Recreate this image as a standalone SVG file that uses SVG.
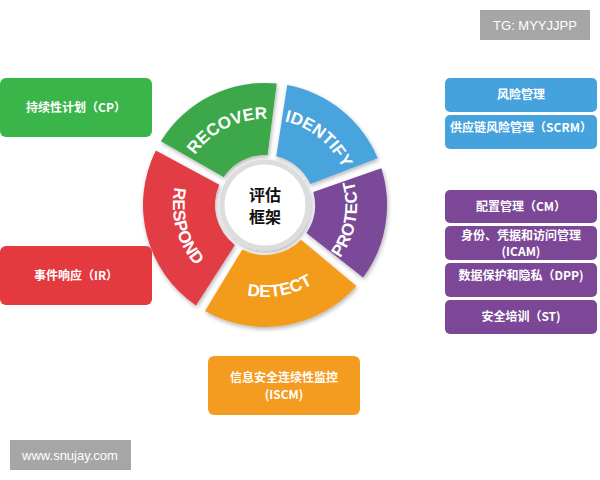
<svg xmlns="http://www.w3.org/2000/svg" width="600" height="480" viewBox="0 0 600 480">
<style>
.t{font-family:"Noto Sans CJK SC","Liberation Sans",sans-serif;font-size:12px;fill:#fff;text-anchor:middle;font-weight:bold}
.w{font-family:"Liberation Sans",sans-serif;font-size:17px;font-weight:bold;fill:#fff}
.g{font-family:"Liberation Sans",sans-serif;font-size:13px;fill:#fff;text-anchor:middle}
</style>
<defs>
<filter id="sh" x="-20%" y="-20%" width="140%" height="140%"><feDropShadow dx="1" dy="2" stdDeviation="2" flood-opacity="0.3"/></filter>
<path id="pRec" d="M181.4,185 A86,86 0 0 1 299.3,126.1"/>
<path id="pId" d="M248.6,120.6 A86,86 0 0 1 351,203.5"/>
<path id="pPro" d="M311,284.7 A92,92 0 0 0 335.5,145.8"/>
<path id="pDet" d="M205.9,275.5 A92,92 0 0 0 344.7,251"/>
<path id="pRes" d="M189.6,152.2 A92,92 0 0 0 226.1,288.4"/>
</defs>
<rect width="600" height="480" fill="#fff"/>
<g id="wheel" filter="url(#sh)">
<path d="M287.2,85.1 A122,122 0 0 1 377.7,158.3 L310.3,183.9 A50,50 0 0 0 276.3,156.3 Z" fill="#4aa3dc"/>
<path d="M381.4,168.3 A122,122 0 0 1 363.1,277.6 L306.5,233 A50,50 0 0 0 313.3,192.1 Z" fill="#7a4a97"/>
<path d="M356.4,285.9 A122,122 0 0 1 205,311.1 L242.3,249.6 A50,50 0 0 0 301,239.7 Z" fill="#f39c1f"/>
<path d="M195.9,305.5 A122,122 0 0 1 155.8,150.6 L219.3,184.7 A50,50 0 0 0 234.9,245 Z" fill="#e23c45"/>
<path d="M160.9,141.3 A122,122 0 0 1 276.7,83.6 L267.6,155.1 A50,50 0 0 0 223.6,177.1 Z" fill="#3ca84a"/>
<circle cx="265" cy="205" r="43" fill="#fff" stroke="#ddd" stroke-width="5"/>
</g>
<g id="labels">
<text class="w"><textPath href="#pRec" startOffset="50%" text-anchor="middle">RECOVER</textPath></text>
<text class="w"><textPath href="#pId" startOffset="50%" text-anchor="middle">IDENTIFY</textPath></text>
<text class="w"><textPath href="#pPro" startOffset="50%" text-anchor="middle">PROTECT</textPath></text>
<text class="w"><textPath href="#pDet" startOffset="50%" text-anchor="middle">DETECT</textPath></text>
<text class="w"><textPath href="#pRes" startOffset="50%" text-anchor="middle">RESPOND</textPath></text>
<text x="265" y="201" font-family="Noto Sans CJK SC,sans-serif" font-size="16" font-weight="bold" text-anchor="middle" fill="#111">评估</text>
<text x="265" y="223" font-family="Noto Sans CJK SC,sans-serif" font-size="16" font-weight="bold" text-anchor="middle" fill="#111">框架</text>
</g>
<g id="cp"><rect x="0" y="78" width="152" height="59" rx="6" fill="#3ab54a"/><text class="t" x="76" y="112">持续性计划（CP）</text></g>
<g id="ir"><rect x="0" y="246" width="152" height="59" rx="6" fill="#e4393f"/><text class="t" x="76" y="280">事件响应（IR）</text></g>
<g id="iscm"><rect x="208" y="356" width="152" height="59" rx="6" fill="#f39c1f"/><text class="t" x="284" y="382">信息安全连续性监控</text><text class="t" x="284" y="399">(ISCM)</text></g>
<g id="rm"><rect x="445" y="78" width="152" height="34" rx="5" fill="#45a2dd"/><text class="t" x="521" y="99">风险管理</text></g>
<g id="scrm"><rect x="445" y="115" width="152" height="34" rx="5" fill="#45a2dd"/><text class="t" x="521" y="132">供应链风险管理（SCRM）</text></g>
<g id="cm"><rect x="445" y="190" width="152" height="33" rx="5" fill="#7b4796"/><text class="t" x="521" y="211">配置管理（CM）</text></g>
<g id="icam"><rect x="445" y="226" width="152" height="34" rx="5" fill="#7b4796"/><text class="t" x="521" y="240" font-size="11.5">身份、凭据和访问管理</text><text class="t" x="521" y="256" font-size="11.5">(ICAM)</text></g>
<g id="dpp"><rect x="445" y="263" width="152" height="34" rx="5" fill="#7b4796"/><text class="t" x="521" y="280">数据保护和隐私（DPP)</text></g>
<g id="st"><rect x="445" y="300" width="152" height="34" rx="5" fill="#7b4796"/><text class="t" x="521" y="321">安全培训（ST)</text></g>
<g id="tg"><rect x="480" y="10" width="110" height="30" fill="#a6a6a6"/><text class="g" x="535" y="30">TG: MYYJJPP</text></g>
<g id="web"><rect x="10" y="440" width="121" height="30" fill="#a6a6a6"/><text class="g" x="70" y="460">www.snujay.com</text></g>
<g id="connectors"/>
</svg>
